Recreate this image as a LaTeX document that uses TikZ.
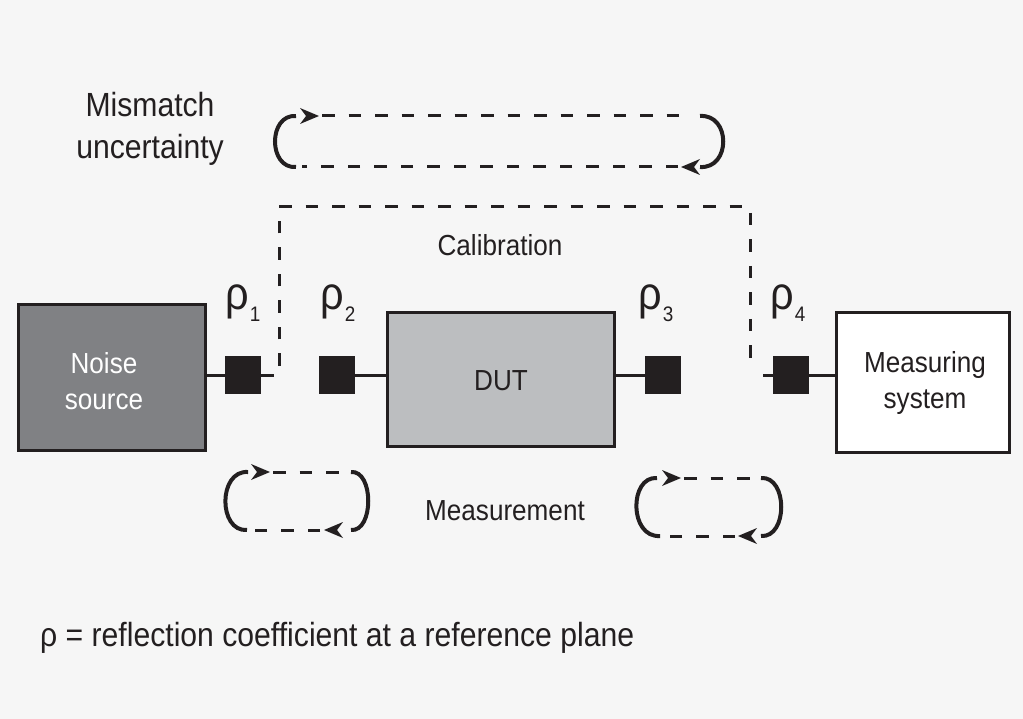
\documentclass[tikz,border=0pt]{standalone}
\usepackage{fontspec}
\setmainfont[FakeStretch=0.9]{Liberation Sans}
\usetikzlibrary{arrows.meta}
\definecolor{ink}{HTML}{231F20}
\definecolor{bg}{HTML}{F6F6F6}
\definecolor{noisegray}{HTML}{808184}
\definecolor{dutgray}{HTML}{BCBEC0}
\newcommand{\rholabel}[1]{{\fontsize{46}{46}\selectfont ρ}\hspace{1pt}\raisebox{-12pt}{\fontsize{21}{21}\selectfont #1}}
\begin{document}
\begin{tikzpicture}[x=1pt,y=-1pt,
  box/.style={draw=ink, line width=3pt, inner sep=0pt, outer sep=0pt, rectangle},
  port/.style={fill=ink, minimum width=36pt, minimum height=37pt, inner sep=0pt, outer sep=0pt},
  wire/.style={draw=ink, line width=3pt},
  dash line/.style={draw=ink, line width=3pt, dash pattern=on 12.5pt off 14pt},
  loop arc/.style={draw=ink, line width=4pt},
  tipr/.pic={\fill[ink] (1,0) -- (-18,-8) -- (-12,0) -- (-18,8) -- cycle;},
  lbl/.style={text=ink, font=\fontsize{29}{36}\selectfont, inner sep=0pt, align=center},
  big lbl/.style={text=ink, font=\fontsize{33.5}{42}\selectfont, inner sep=0pt, align=center},
  rho/.style={text=ink, anchor=base west, inner sep=0pt}
]
\fill[bg] (0,0) rectangle (1023,719);
\useasboundingbox (0,0) rectangle (1023,719);

% boxes
\node[box, fill=noisegray, minimum width=187pt, minimum height=146pt] (ns) at (112,377.5) {};
\node[lbl, text=white] (nstext) at (104,381) {Noise\\source};
\node[box, fill=dutgray, minimum width=227pt, minimum height=134pt] (dut) at (501,379.5) {};
\node[lbl] (duttext) at (501,381) {DUT};
\node[box, fill=white, minimum width=173pt, minimum height=140pt] (ms) at (923,382.5) {};
\node[lbl] (mstext) at (925,383) {Measuring\\system};

% ports
\node[port] (sq1) at (243,375) {};
\node[port] (sq2) at (337,375) {};
\node[port] (sq3) at (663,375) {};
\node[port] (sq4) at (791,375) {};

\node[rho] (r1) at (225,310) {\rholabel{1}};
\node[rho] (r2) at (320,310) {\rholabel{2}};
\node[rho] (r3) at (638,310) {\rholabel{3}};
\node[rho] (r4) at (770,310) {\rholabel{4}};

\coordinate (c1) at (274,375);
\coordinate (c4) at (763,375);
\draw[wire] (ns.east |- sq1) -- (sq1.west);
\draw[wire] (sq1.east) -- (c1);
\draw[wire] (sq2.east) -- (dut.west |- sq2);
\draw[wire] (dut.east |- sq3) -- (sq3.west);
\draw[wire] (c4) -- (sq4.west);
\draw[wire] (sq4.east) -- (ms.west |- sq4);

% calibration path
\coordinate (cal1) at (279,366);
\coordinate (cal2) at (750,369);
\draw[dash line] (cal1) -- (279,207) -- (750,207) -- (cal2);
\node[lbl, anchor=base] (caltext) at (500,256) {Calibration};

% mismatch loop
\node[big lbl] (mmtext) at (150,129) {Mismatch\\uncertainty};
\draw[loop arc] (296,167) .. controls (268,169) and (268,114) .. (296,116);
\pic at (318,116) {tipr};
\draw[dash line] (322,116) -- (688,116);
\draw[loop arc] (700,116) .. controls (731,114) and (731,169) .. (700,167);
\pic[xscale=-1] at (682,167) {tipr};
\draw[dash line] (678,167) -- (302,167);

% measurement loops
\node[lbl, anchor=base] (meastext) at (505,520) {Measurement};
\draw[loop arc] (247,530) .. controls (218,532) and (218,470) .. (248,472);
\pic at (269,472) {tipr};
\draw[dash line] (273,472) -- (347,472);
\draw[loop arc] (351,472) .. controls (374,470) and (374,532) .. (351,530);
\pic[xscale=-1] at (325,530) {tipr};
\draw[dash line] (320,530) -- (250,530);

\draw[loop arc] (660,536) .. controls (629,538) and (629,476) .. (657,478);
\pic at (680,478) {tipr};
\draw[dash line] (684,478) -- (757,478);
\draw[loop arc] (761,478) .. controls (788,476) and (788,538) .. (761,536);
\pic[xscale=-1] at (739,536) {tipr};
\draw[dash line] (735,536) -- (663,536);

% footer
\node[big lbl, anchor=base west] (foot) at (40,646) {ρ = reflection coefficient at a reference plane};
\end{tikzpicture}
\end{document}
